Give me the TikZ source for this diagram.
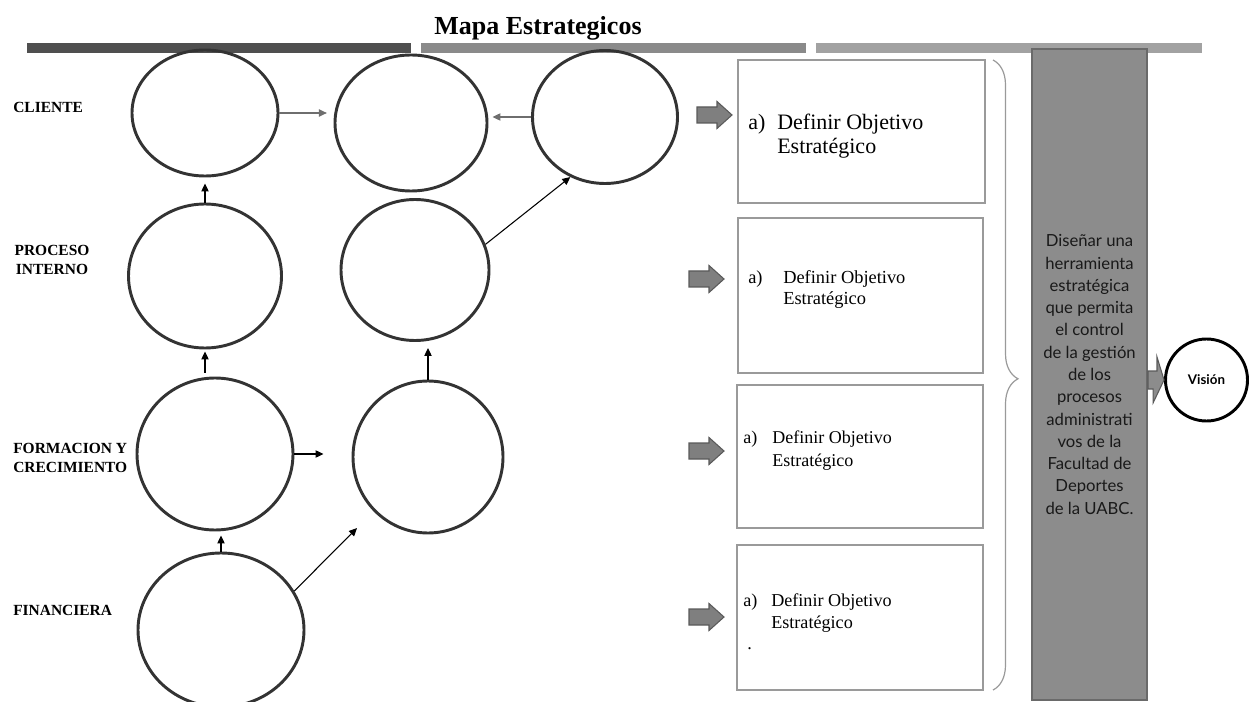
\documentclass[tikz,border=0pt]{standalone}
\usepackage{fontspec}
\setmainfont{Liberation Serif}
\newfontfamily\humanist{Lato}
\usetikzlibrary{shapes.geometric,arrows.meta,calc,decorations.pathreplacing}
\definecolor{ink}{HTML}{333333}
\definecolor{barA}{HTML}{4F4F4F}
\definecolor{barB}{HTML}{8A8A8A}
\definecolor{barC}{HTML}{A2A2A2}
\definecolor{frame}{HTML}{9A9A9A}
\definecolor{slab}{HTML}{8C8C8C}
\definecolor{slabedge}{HTML}{6A6A6A}
\definecolor{arrowfill}{HTML}{7F7F7F}
\definecolor{arrowedge}{HTML}{5A5A5A}
\definecolor{link}{HTML}{6E6E6E}
\begin{document}
\begin{tikzpicture}[x=0.75pt,y=-0.75pt,
  oval/.style 2 args={ellipse, draw=ink, line width=2.2pt, inner sep=0pt,
    minimum width={(#1)*0.75pt}, minimum height={(#2)*0.75pt}},
  goalbox/.style 2 args={rectangle, draw=frame, line width=1.6pt, inner sep=0pt,
    minimum width={(#1)*0.75pt}, minimum height={(#2)*0.75pt}},
  conn/.style={-{Triangle[width=5.5pt,length=6pt]}, line width=0.8pt, draw=black},
  conngray/.style={conn, draw=link},
  persp/.style={font=\bfseries\fontsize{11.6}{14.3}\selectfont, inner sep=0pt},
  goaltxt/.style={anchor=base west, inner sep=0pt},
  fatarrow/.pic={\draw[fill=arrowfill, draw=arrowedge, line width=0.8pt]
    (0,-8) -- (20,-8) -- (20,-13.5) -- (35,0) -- (20,13.5) -- (20,8) -- (0,8) -- cycle;}
]
\useasboundingbox (0,0) rectangle (1249,702);

% title and header bars
\node[font=\bfseries\fontsize{19.5}{22}\selectfont, anchor=base, inner sep=0pt] (title) at (538,35) {Mapa Estrategicos};
\fill[barA] (27,43) rectangle (411,53);
\fill[barB] (421,43) rectangle (806,53);
\fill[barC] (816,43) rectangle (1202,53);

% perspective labels
\node[persp, anchor=base west] (lclient) at (13,113) {CLIENTE};
\node[persp, anchor=base, align=center] (lproc) at (52,275) {PROCESO\\INTERNO};
\node[persp, anchor=base west] (lform1) at (13,453) {FORMACION Y};
\node[persp, anchor=base west] (lform2) at (13,472) {CRECIMIENTO};
\node[persp, anchor=base west] (lfin) at (13,615) {FINANCIERA};

% objective ovals
\node[oval={146}{126}] (c1) at (205,113) {};
\node[oval={152}{136}] (c2) at (411,123) {};
\node[oval={145}{133}] (c3) at (605,117) {};
\node[oval={153}{144}] (c4) at (205,276) {};
\node[oval={148}{141}] (c5) at (415,270) {};
\node[oval={156}{152}] (c6) at (215,454) {};
\node[oval={150}{152}] (c7) at (428,457) {};
\node[oval={166}{154}] (c8) at (221,630) {};

% cause-effect links
\draw[conngray, shorten >=5pt] (c1.east) -- (c1.east -| c2.west);
\draw[conngray, shorten >=3pt] (c3.west) -- (c3.west -| c2.east);
\draw[conn, shorten >=4.5pt] (c4.north) -- (c4.north |- c1.south);
\draw[conn] (c5.20) -- (c3.240);
\draw[conn, shorten <=3pt, shorten >=1.5pt] (c4.south |- c6.north) -- (c4.south);
\draw[conn, shorten >=4.5pt] (c7.north) -- (c7.north |- c5.south);
\draw[conn, shorten >=21pt] (c6.east) -- (c6.east -| c7.west);
\draw[conn, shorten >=3pt] (c8.north) -- (c8.north |- c6.south);
\draw[conn, shorten >=17.6pt] (c8.28) -- (c7.225);

% block arrows towards the objective boxes
\pic at (697,115) {fatarrow};
\pic at (689,279) {fatarrow};
\pic at (689,451) {fatarrow};
\pic at (689,617) {fatarrow};

% objective boxes
\node[goalbox={247}{143}] (b1) at (861.5,131.5) {};
\node[goalbox={245}{155}] (b2) at (860.5,295.5) {};
\node[goalbox={246}{143}] (b3) at (860,456.5) {};
\node[goalbox={246}{145}] (b4) at (860,617.5) {};

\begin{scope}[every node/.append style={font=\fontsize{16.5}{18}\selectfont}]
\node[goaltxt] (b1a) at (748,130) {a)};
\node[goaltxt] (b1l1) at (777,130) {Definir Objetivo};
\node[goaltxt] (b1l2) at (777,154) {Estratégico};
\end{scope}
\begin{scope}[every node/.append style={font=\fontsize{13.8}{16}\selectfont}]
\node[goaltxt] (b2a) at (748,283) {a)};
\node[goaltxt] (b2l1) at (783,283) {Definir Objetivo};
\node[goaltxt] (b2l2) at (783,305) {Estratégico};
\end{scope}
\begin{scope}[every node/.append style={font=\fontsize{13.5}{16}\selectfont}]
\node[goaltxt] (b3a) at (743,443) {a)};
\node[goaltxt] (b3l1) at (772,443) {Definir Objetivo};
\node[goaltxt] (b3l2) at (772,466) {Estratégico};
\end{scope}
\begin{scope}[every node/.append style={font=\fontsize{13.6}{16}\selectfont}]
\node[goaltxt] (b4a) at (743,606) {a)};
\node[goaltxt] (b4l1) at (771,606) {Definir Objetivo};
\node[goaltxt] (b4l2) at (771,628) {Estratégico};
\node[goaltxt] (b4dot) at (747,649) {.};
\end{scope}

% brace grouping the objectives
\draw[frame, line width=0.9pt, decorate, decoration={brace, amplitude=18.75pt, aspect=0.506}]
  (993,60) -- (993,690);

% strategic goal slab
\node[rectangle, fill=slab, draw=slabedge, line width=1.5pt, inner sep=0pt,
  minimum width={115*0.75pt}, minimum height={651*0.75pt},
  align=center, text=black!90, font=\humanist\fontsize{12.5}{16.7}\selectfont] (gbox) at (1089.5,374.5)
  {Diseñar una\\herramienta\\estratégica\\que permita\\el control\\de la gestión\\de los\\procesos\\administrati\\vos de la\\Facultad de\\Deportes\\de la UABC.};

% vision
\node[circle, draw=black, line width=2.2pt, inner sep=0pt, minimum size={82*0.75pt},
  font=\humanist\bfseries\fontsize{10}{12}\selectfont] (vis) at (1206.5,380) {Visión};
\coordinate (va) at (gbox.east |- vis.center);
\draw[fill=slab, draw=arrowedge, line width=0.8pt]
  ($(va)+(0,-9)$) -- ++(9,0) -- ++(0,-14) -- (vis.west) -- ++(-11,23) -- ++(0,-14) -- ($(va)+(0,9)$) -- cycle;
\end{tikzpicture}
\end{document}
